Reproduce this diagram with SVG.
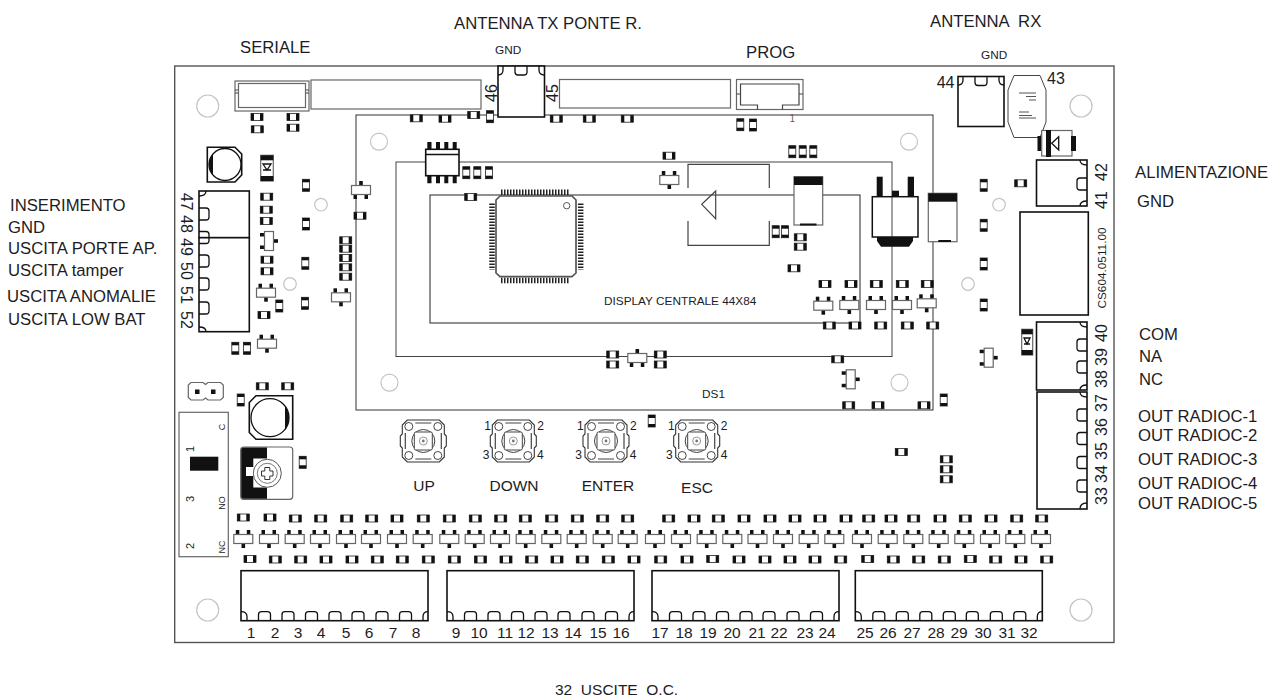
<svg xmlns="http://www.w3.org/2000/svg" width="1271" height="698" viewBox="0 0 1271 698">
<style>
text{font-family:"Liberation Sans",Arial,sans-serif;fill:#1c1c24}
.l{font-size:16.7px}.s{font-size:11.8px}.n{font-size:15.5px;text-anchor:middle}.m{font-size:16px}.r{font-size:16px;text-anchor:middle}
.f{font-size:12px;text-anchor:middle}
.k{fill:none;stroke:#111;stroke-width:1.3}.t{fill:#fff;stroke:#111;stroke-width:1.6}
.g{fill:#fff;stroke:#666;stroke-width:1.2}.d{fill:none;stroke:#444;stroke-width:1.2}
.h{fill:#fff;stroke:#c4c4c4;stroke-width:1.2}.b{fill:#111;stroke:none}
</style>
<defs>
<g id="h"><rect x="-6" y="-3.5" width="12" height="7" fill="#fff" stroke="#222" stroke-width=".8"/><rect class="b" x="-6" y="-3.5" width="3" height="7"/><rect class="b" x="3" y="-3.5" width="3" height="7"/></g>
<g id="v"><rect x="-3.5" y="-6" width="7" height="12" fill="#fff" stroke="#222" stroke-width=".8"/><rect class="b" x="-3.5" y="-6" width="7" height="3"/><rect class="b" x="-3.5" y="3" width="7" height="3"/></g>
<g id="sd"><rect class="b" x="-7.5" y="-9" width="3.5" height="5"/><rect class="b" x="3.5" y="-9" width="3.5" height="5"/><rect class="b" x="-1.8" y="4" width="3.6" height="5"/><rect class="g" x="-9.5" y="-4.5" width="19" height="9"/></g>
<g id="su"><rect class="b" x="-7.5" y="4" width="3.5" height="5"/><rect class="b" x="3.5" y="4" width="3.5" height="5"/><rect class="b" x="-1.8" y="-9" width="3.6" height="5"/><rect class="g" x="-9.5" y="-4.5" width="19" height="9"/></g>
<g id="ss"><rect class="b" x="-9" y="-8" width="5" height="3.5"/><rect class="b" x="-9" y="4.5" width="5" height="3.5"/><rect class="b" x="4" y="-1.8" width="5" height="3.6"/><rect class="g" x="-4.5" y="-9.5" width="9" height="19"/></g>
<path id="bb" class="k" d="M-6 0V-6Q-6-9-3-9H3Q6-9 6-6V0"/>
<path id="bt" class="k" d="M-6 0V6Q-6 9-3 9H3Q6 9 6 6V0"/>
<path id="bl" class="k" d="M0-6H7Q10-6 10-3V3Q10 6 7 6H0"/>
<path id="br" class="k" d="M0-6H-7Q-10-6-10-3V3Q-10 6-7 6H0"/>
<g id="term8"><rect class="t" x="0" y="0" width="187" height="50"/><path class="k" d="M0 41Q6 41 6 46V50M187 41Q182 41 182 46V50"/>
<use href="#bb" x="23.5" y="50"/><use href="#bb" x="47" y="50"/><use href="#bb" x="70.5" y="50"/><use href="#bb" x="94" y="50"/><use href="#bb" x="117" y="50"/><use href="#bb" x="141" y="50"/><use href="#bb" x="164.5" y="50"/></g>
<g id="btn"><path d="M-16-21H16L21-16V-7L23-5V5L21 7V16L16 21H-16L-21 16V7L-23 5V-5L-21-7V-16Z" fill="#fff" stroke="#333" stroke-width="1.1"/>
<g fill="#fff" stroke="#444" stroke-width="1"><circle cx="-14.5" cy="-14.5" r="4"/><circle cx="14.5" cy="-14.5" r="4"/><circle cx="-14.5" cy="14.5" r="4"/><circle cx="14.5" cy="14.5" r="4"/><circle r="11.5"/><rect x="-9" y="-9" width="18" height="18" rx="1.5"/></g>
<circle r="4" fill="none" stroke="#999"/><circle r="1.4" fill="#777"/><path class="d" d="M-8-18H8M-8 18H8M-18-8V8M18-8V8" stroke-width=".8"/></g>
</defs>
<rect width="1271" height="698" fill="#fff"/>
<rect id="board" x="174.7" y="66" width="939.3" height="576.5" fill="#fff" stroke="#555" stroke-width="1.4"/>
<g id="holes">
<circle class="h" cx="207.7" cy="106" r="11"/><circle class="h" cx="1081" cy="106" r="11"/><circle class="h" cx="207.7" cy="610" r="11"/><circle class="h" cx="1081" cy="610" r="11"/>
<circle class="h" cx="379" cy="141.7" r="8.5"/><circle class="h" cx="909" cy="141.7" r="8.5"/><circle class="h" cx="389.5" cy="382.7" r="8.5"/><circle class="h" cx="899.5" cy="382.7" r="8.5"/>
<circle class="h" cx="321" cy="204.7" r="6.3"/><circle class="h" cx="290" cy="284" r="6.3"/><circle class="h" cx="999" cy="204.7" r="6.3"/><circle class="h" cx="968" cy="284" r="6.3"/>
</g>
<g id="display">
<rect x="356" y="115" width="577" height="295" fill="none" stroke="#333" stroke-width="1"/>
<rect x="396" y="162" width="496" height="194.5" fill="none" stroke="#444" stroke-width="1"/>
<rect x="430" y="195" width="430" height="128" fill="none" stroke="#222" stroke-width="1"/>
</g>
<g id="top-connectors">
<rect class="g" x="235" y="81" width="74" height="30"/><rect class="g" stroke-width="1" x="238.5" y="83.5" width="67" height="24"/><path class="d" d="M235 90H238M235 93H238M306 90H309M306 93H309"/>
<rect class="g" x="311" y="80" width="170" height="29"/>
<rect class="t" x="498" y="66" width="46.5" height="51"/><path class="k" d="M498 75Q503 75 503 70V66M544.5 75Q539 75 539 70V66"/><use href="#bt" x="521" y="66"/>
<rect class="g" x="559.5" y="79.5" width="171" height="28.5"/>
<rect class="g" x="736.5" y="79.5" width="66.5" height="30"/>
<path class="d" d="M757.5 109.5V105H740.5V84H799V105H782.5V109.5M736.5 94H740.5M799 94H803"/>
<rect class="t" x="958" y="76.5" width="46" height="50"/><path class="k" d="M958 85Q963 85 963 80V76.5M1004 85Q999 85 999 80V76.5"/><use href="#bt" x="981" y="76.5"/>
</g>
<g id="component-43"><path d="M1014 75.5H1040L1046 90V122L1040 137.5H1014L1008 122V90Z" fill="#fff" stroke="#444" stroke-width="1"/><path d="M1019 93H1036M1026 96.5H1036M1029 100H1036M1019 112H1029M1019 115.5H1032M1019 118H1036" fill="none" stroke="#555"/></g>
<g id="diode-top"><rect class="g" x="1041.7" y="130.5" width="30.3" height="25.5"/><rect class="b" x="1037.5" y="136" width="3.5" height="15"/><rect class="b" x="1046" y="130" width="5" height="27"/><rect class="b" x="1071" y="136" width="5" height="15"/><path class="k" d="M1051.7 143.3L1058.7 136.7V150Z"/></g>
<g id="terminals-right">
<rect class="t" x="1036.5" y="160" width="50.5" height="46"/><path class="k" d="M1087 165Q1080 165 1080 160M1087 201Q1080 201 1080 206"/><use href="#br" x="1087" y="184"/>
<rect class="t" x="1020" y="212" width="68.3" height="103"/>
<rect class="t" x="1036.5" y="322" width="50.5" height="68"/><path class="k" d="M1087 327Q1080 327 1080 322M1087 385Q1080 385 1080 390"/><use href="#br" x="1087" y="345"/><use href="#br" x="1087" y="367"/>
<rect class="t" x="1037" y="392" width="50" height="117"/><path class="k" d="M1087 397Q1080 397 1080 392M1087 503Q1080 503 1080 509"/><use href="#br" x="1087" y="415"/><use href="#br" x="1087" y="438.5"/><use href="#br" x="1087" y="462.5"/><use href="#br" x="1087" y="486"/>
</g>
<g id="terminals-left">
<rect class="t" x="199" y="191" width="50.3" height="46.7"/><rect class="t" x="199" y="237.7" width="50.3" height="94"/><path class="k" d="M199 196Q206 196 206 191M199 327Q206 327 206 331.7"/>
<use href="#bl" x="199" y="214"/><use href="#bl" x="199" y="237.5"/><use href="#bl" x="199" y="261"/><use href="#bl" x="199" y="284"/><use href="#bl" x="199" y="308"/>
</g>
<g id="terminals-bottom"><use href="#term8" x="241" y="570.7"/><use href="#term8" x="447" y="570.7"/><use href="#term8" x="652" y="570.7"/><use href="#term8" x="855.3" y="570.7"/></g>
<g id="inductor-top"><path class="t" d="M207.3 147.3H235L241.7 154V175L235 182H207.3Z"/><circle class="k" cx="225" cy="164.5" r="16"/><path class="b" d="M209 164.5A16 16 0 0 1 213 154V175A16 16 0 0 1 209 164.5Z"/></g>
<g id="inductor-bottom"><path class="t" d="M256 395.7H292.7V439.3H256L249.3 432.5V402.5Z"/><circle class="k" cx="270" cy="417.7" r="19"/><path class="b" d="M289 417.7A19 19 0 0 0 285 406V430A19 19 0 0 0 289 417.7Z"/></g>
<g id="diode-left"><rect class="g" x="260.7" y="155.3" width="12.6" height="25.7"/><rect class="b" x="260.7" y="155.3" width="12.6" height="5"/><rect class="b" x="260.7" y="176" width="12.6" height="5"/><path class="k" d="M263 164H271L267 170ZM263 170H271"/></g>
<g id="diode-right"><rect class="g" x="1021.7" y="329.3" width="11" height="25.7"/><rect class="b" x="1021.7" y="329.3" width="11" height="5"/><rect class="b" x="1021.7" y="350" width="11" height="5"/><path class="k" d="M1024 338H1030L1027 344ZM1024 344H1030"/></g>
<g id="jumper"><path class="g" d="M191 382.5H203L205.5 384.5L208 382.5H220.5L223.3 385V397.5L220.5 400H208L205.5 398L203 400H191L188.3 397.5V385Z"/><rect class="b" x="195" y="389.5" width="4.5" height="4.5"/><rect class="b" x="211" y="389.5" width="4.5" height="4.5"/></g>
<g id="relay"><rect x="179" y="412.3" width="49.3" height="144.4" fill="#fff" stroke="#666" stroke-width="1.2"/><rect class="b" x="190" y="456.7" width="28.3" height="14"/>
<text style="font-size:11px;text-anchor:middle" transform="rotate(-90 194 449)" x="194" y="449">1</text><text style="font-size:11px;text-anchor:middle" transform="rotate(-90 194 499)" x="194" y="499">3</text><text style="font-size:11px;text-anchor:middle" transform="rotate(-90 194 546)" x="194" y="546">2</text><text style="font-size:9px;text-anchor:middle" transform="rotate(-90 224.5 427)" x="224.5" y="427">C</text><text style="font-size:9px;text-anchor:middle" transform="rotate(-90 224.5 503)" x="224.5" y="503">NO</text><text style="font-size:9px;text-anchor:middle" transform="rotate(-90 224.5 547)" x="224.5" y="547">NC</text></g>
<g id="trimmer"><rect class="g" x="240.7" y="447" width="52" height="52.3" rx="3"/><path class="b" d="M243.7 447.5H267V498.8H243.7Q241.2 498.8 241.2 496V450Q241.2 447.5 243.7 447.5Z"/><path fill="#fff" d="M253.3 458.5H267V487.5H253.3V476H246V467H253.3Z"/><circle cx="267.3" cy="473.3" r="14" fill="#fff" stroke="#555"/><circle cx="267.3" cy="473.3" r="10" fill="none" stroke="#777"/><path d="M264.8 467.5H269.8V471H273V476H269.8V479.5H264.8V476H261.5V471H264.8Z" fill="#fff" stroke="#333"/></g>
<g id="mcu"><path fill="#fff" stroke="#555" stroke-width="1.7" d="M500 196H572L576 200V273L572 276.7H500L496 273V200Z"/>
<circle cx="566.7" cy="205.7" r="3.2" fill="none" stroke="#555"/>
<g fill="none" stroke="#222" stroke-width="5.5" stroke-dasharray="1.5 1.5"><path d="M501 192.3H569"/><path d="M501 280.5H569"/><path d="M580.7 203.5V270"/><path d="M492 203.5V270"/></g></g>
<g id="soic"><rect class="t" x="425.7" y="149.3" width="33.3" height="26.4"/><path class="k" d="M425.7 154.5H459"/><path class="b" d="M427.3 142H431.5V149H427.3ZM436 142H440V149H436ZM444.3 142H448.3V149H444.3ZM452.7 142H456.7V149H452.7ZM427.3 176H431.5V183.3H427.3ZM436 176H440V183.3H436ZM444.3 176H448.3V183.3H444.3ZM452.7 176H456.7V183.3H452.7Z"/></g>
<g id="bracket"><path class="d" d="M688 188V164.3H769.3V188M688 221V245.3H769.3V221M715.7 191L701.7 204.3L715.7 218.7Z" fill="#fff"/></g>
<g id="cap-a"><rect class="g" x="794" y="176.7" width="28.7" height="48.3"/><rect class="b" x="794" y="176.7" width="28.7" height="8.3"/><rect class="b" x="800" y="223.5" width="16.5" height="2"/></g>
<g id="cap-b"><rect class="g" x="928.3" y="193.3" width="28.7" height="48.4"/><rect class="b" x="928.3" y="193.3" width="28.7" height="8.4"/><rect class="b" x="938.3" y="240" width="12.7" height="2"/></g>
<g id="transistor"><rect class="b" x="876.7" y="176.7" width="6" height="20"/><rect class="b" x="907.7" y="176.7" width="6.3" height="20"/><rect class="b" x="892" y="190.7" width="7" height="6"/><path class="b" d="M877 237H913V241L909 246.7H881L877 241Z"/><rect x="872.3" y="196.7" width="45.7" height="40.3" fill="none" stroke="#111" stroke-width="1.5"/></g>
<g id="buttons"><use href="#btn" x="423.3" y="441"/><use href="#btn" x="513.3" y="441"/><use href="#btn" x="606" y="441"/><use href="#btn" x="696.7" y="441"/></g>
<g id="smd">
<use href="#h" x="257" y="117"/><use href="#h" x="257.3" y="129.3"/><use href="#h" x="293" y="117"/><use href="#h" x="293" y="127.7"/>
<use href="#h" x="416.3" y="118.3"/><use href="#h" x="445" y="118.7"/><use href="#h" x="473.7" y="115"/><use href="#v" x="490" y="116.7"/>
<use href="#h" x="266.7" y="196.7"/><use href="#h" x="266.3" y="209.7"/><use href="#h" x="266.3" y="221"/><use href="#h" x="267" y="259.7"/><use href="#h" x="267" y="271.3"/><use href="#h" x="264" y="315"/><use href="#v" x="279.3" y="306"/>
<use href="#v" x="235.3" y="348.3"/><use href="#v" x="247" y="348.3"/><use href="#v" x="306" y="185.3"/><use href="#v" x="306" y="224"/><use href="#v" x="305.3" y="263.3"/><use href="#v" x="305" y="303.3"/>
<use href="#h" x="360" y="215.7"/><use href="#h" x="345.7" y="240.3"/><use href="#h" x="345.7" y="248.7"/><use href="#h" x="345.7" y="258"/><use href="#h" x="345.7" y="267.3"/><use href="#h" x="345.7" y="276.7"/>
<use href="#h" x="470.7" y="197"/><use href="#v" x="466.3" y="172.7"/><use href="#v" x="477.3" y="172.7"/><use href="#v" x="489" y="172.7"/>
<use href="#h" x="262.3" y="386.3"/><use href="#h" x="287.7" y="386.3"/><use href="#v" x="240.7" y="400"/><use href="#v" x="302.7" y="462.3"/>
<use href="#h" x="556.3" y="118.7"/><use href="#h" x="589.3" y="118.7"/><use href="#h" x="627.3" y="118.7"/><use href="#v" x="740.3" y="124.7"/><use href="#v" x="753" y="125"/><use href="#v" x="792.3" y="151.7"/><use href="#v" x="802.7" y="151.7"/><use href="#v" x="813.3" y="151.7"/><use href="#h" x="669" y="155.7"/>
<use href="#v" x="775.7" y="231.7"/><use href="#v" x="785" y="231.7"/><use href="#h" x="800.3" y="237.3"/><use href="#h" x="800.3" y="246.7"/><use href="#h" x="794" y="268.3"/>
<use href="#h" x="612.7" y="354.5"/><use href="#h" x="612.7" y="364.5"/><use href="#h" x="660.3" y="354.5"/><use href="#h" x="660.3" y="364.5"/>
<use href="#h" x="825" y="284"/><use href="#h" x="851" y="284"/><use href="#h" x="876.3" y="284"/><use href="#h" x="902.3" y="284"/><use href="#h" x="927.3" y="284"/>
<use href="#h" x="829.3" y="325.5"/><use href="#h" x="855" y="325.5"/><use href="#h" x="880.7" y="325.5"/><use href="#h" x="907.3" y="325.5"/><use href="#h" x="932.7" y="325.5"/>
<use href="#v" x="983.7" y="185.3"/><use href="#v" x="983.7" y="225.3"/><use href="#v" x="983.7" y="264"/><use href="#v" x="983.7" y="305"/><use href="#h" x="1020.7" y="183.3"/>
<use href="#h" x="837.7" y="359.3"/><use href="#h" x="848.7" y="405.3"/><use href="#h" x="878" y="405.3"/><use href="#h" x="924" y="405.3"/><use href="#v" x="943.7" y="400"/><use href="#h" x="901.3" y="452"/><use href="#h" x="946.3" y="459.3"/><use href="#h" x="946.3" y="469.3"/><use href="#h" x="946.3" y="479.3"/><use href="#v" x="651.7" y="421"/>
</g>
<g id="smd-row-top">
<use href="#h" x="243.3" y="517.5"/><use href="#h" x="270" y="517.5"/><use href="#h" x="295.3" y="518.5"/><use href="#h" x="320.7" y="518.5"/><use href="#h" x="346.7" y="518.5"/><use href="#h" x="371.7" y="518.5"/><use href="#h" x="397" y="518.5"/><use href="#h" x="423.3" y="518.5"/><use href="#h" x="449.3" y="518.5"/><use href="#h" x="475.3" y="518.5"/><use href="#h" x="500.7" y="518.5"/><use href="#h" x="525.3" y="518.5"/><use href="#h" x="551.7" y="518.5"/><use href="#h" x="577.3" y="518.5"/><use href="#h" x="602.7" y="518.5"/><use href="#h" x="627.7" y="518.5"/><use href="#h" x="668.7" y="518.5"/><use href="#h" x="694" y="518.5"/><use href="#h" x="718.3" y="518.5"/><use href="#h" x="744" y="518.5"/><use href="#h" x="770" y="518.5"/><use href="#h" x="795" y="518.5"/><use href="#h" x="820" y="518.5"/><use href="#h" x="846" y="518.5"/><use href="#h" x="868.7" y="518.5"/><use href="#h" x="891" y="518.5"/><use href="#h" x="913.7" y="518.5"/><use href="#h" x="940" y="518.5"/><use href="#h" x="965.3" y="518.5"/><use href="#h" x="991" y="518.5"/><use href="#h" x="1016.7" y="518.5"/><use href="#h" x="1041.7" y="518.5"/>
</g>
<g id="smd-row-bottom">
<use href="#h" x="250" y="559"/><use href="#h" x="275.3" y="559.5"/><use href="#h" x="300.7" y="559.5"/><use href="#h" x="326" y="559.5"/><use href="#h" x="352" y="559.5"/><use href="#h" x="377.3" y="559.5"/><use href="#h" x="402.3" y="559.5"/><use href="#h" x="428.3" y="559.5"/><use href="#h" x="454.3" y="559.5"/><use href="#h" x="480.5" y="559.5"/><use href="#h" x="506" y="559.5"/><use href="#h" x="531.7" y="559.5"/><use href="#h" x="557" y="559.5"/><use href="#h" x="582.3" y="559.5"/><use href="#h" x="608.3" y="559.5"/><use href="#h" x="634" y="559.5"/><use href="#h" x="660.7" y="559.5"/><use href="#h" x="687" y="559.5"/><use href="#h" x="712.7" y="559"/><use href="#h" x="739" y="559.5"/><use href="#h" x="765" y="559.5"/><use href="#h" x="790" y="559.5"/><use href="#h" x="815" y="559.5"/><use href="#h" x="840.7" y="559.5"/><use href="#h" x="867.7" y="559"/><use href="#h" x="893.3" y="559.5"/><use href="#h" x="918.7" y="559.5"/><use href="#h" x="944.3" y="559.5"/><use href="#h" x="970.3" y="559"/><use href="#h" x="995.7" y="559.5"/><use href="#h" x="1021" y="559.5"/><use href="#h" x="1046.7" y="559.5"/>
</g>
<g id="sot-row">
<use href="#sd" x="243.3" y="539"/><use href="#sd" x="269" y="539"/><use href="#sd" x="294.7" y="539"/><use href="#sd" x="320" y="539"/><use href="#sd" x="346" y="539"/><use href="#sd" x="371" y="539"/><use href="#sd" x="397" y="539"/><use href="#sd" x="422.7" y="539"/><use href="#sd" x="449.3" y="539"/><use href="#sd" x="474.7" y="539"/><use href="#sd" x="500" y="539"/><use href="#sd" x="525.7" y="539"/><use href="#sd" x="551.3" y="539"/><use href="#sd" x="576.7" y="539"/><use href="#sd" x="602.7" y="539"/><use href="#sd" x="627.7" y="539"/><use href="#sd" x="655" y="539"/><use href="#sd" x="681" y="539"/><use href="#sd" x="706.7" y="539"/><use href="#sd" x="732.3" y="539"/><use href="#sd" x="757.5" y="539"/><use href="#sd" x="783" y="539"/><use href="#sd" x="808.7" y="539"/><use href="#sd" x="834.3" y="539"/><use href="#sd" x="862" y="539"/><use href="#sd" x="887.7" y="539"/><use href="#sd" x="913.3" y="539"/><use href="#sd" x="938.7" y="539"/><use href="#sd" x="964.3" y="539"/><use href="#sd" x="990" y="539"/><use href="#sd" x="1015.3" y="539"/><use href="#sd" x="1041" y="539"/>
</g>
<g id="sot-misc">
<use href="#sd" x="266" y="292.7"/><use href="#sd" x="267" y="343.7"/><use href="#sd" x="341" y="297.3"/><use href="#su" x="361" y="190"/><use href="#ss" x="269" y="241"/><use href="#sd" x="669.3" y="180"/><use href="#sd" x="823.3" y="305.7"/><use href="#su" x="637.3" y="358"/>
<use href="#sd" x="849.3" y="305"/><use href="#sd" x="876" y="305"/><use href="#sd" x="902" y="305"/><use href="#sd" x="926.7" y="303.3"/><use href="#ss" x="988.7" y="357.7"/><use href="#ss" x="850.7" y="379.3"/>
</g>
<g id="labels">
<text class="l" x="454" y="29">ANTENNA TX PONTE R.</text>
<text class="l" x="240" y="53">SERIALE</text>
<text class="s" x="495" y="54">GND</text>
<text class="l" x="746" y="58">PROG</text>
<text class="l" x="930" y="27" xml:space="preserve">ANTENNA  RX</text>
<text class="s" x="981" y="59">GND</text>
<text class="l" x="10" y="211">INSERIMENTO</text>
<text class="l" x="8" y="233">GND</text>
<text class="l" x="8" y="254">USCITA PORTE AP.</text>
<text class="l" x="8" y="276">USCITA tamper</text>
<text class="l" x="7" y="302">USCITA ANOMALIE</text>
<text class="l" x="8" y="325">USCITA LOW BAT</text>
<text class="l" x="1135" y="178">ALIMENTAZIONE</text>
<text class="l" x="1137" y="207">GND</text>
<text class="l" x="1139" y="340">COM</text>
<text class="l" x="1139" y="362">NA</text>
<text class="l" x="1139" y="385">NC</text>
<text class="l" x="1138" y="422">OUT RADIOC-1</text>
<text class="l" x="1138" y="441">OUT RADIOC-2</text>
<text class="l" x="1138" y="465">OUT RADIOC-3</text>
<text class="l" x="1138" y="489">OUT RADIOC-4</text>
<text class="l" x="1138" y="509">OUT RADIOC-5</text>
<text style="font-size:15.5px" x="555" y="695" xml:space="preserve">32  USCITE  O.C.</text>
<text class="s" x="604" y="305">DISPLAY CENTRALE 44X84</text>
<text class="s" x="702" y="398">DS1</text>
<text style="font-size:10px;fill:#6a5a4a" x="789.5" y="122">1</text>
<text class="n" x="424" y="491">UP</text><text class="n" x="514" y="491">DOWN</text><text class="n" x="608" y="491">ENTER</text><text class="n" x="697" y="493">ESC</text>
<text class="f" x="487.7" y="430">1</text><text class="f" x="540.7" y="430">2</text><text class="f" x="486" y="459">3</text><text class="f" x="540.3" y="459">4</text>
<text class="f" x="580.3" y="430">1</text><text class="f" x="633.3" y="430">2</text><text class="f" x="578.7" y="459">3</text><text class="f" x="633" y="459">4</text>
<text class="f" x="671.3" y="430">1</text><text class="f" x="724" y="430">2</text><text class="f" x="669.3" y="459">3</text><text class="f" x="724" y="459">4</text>
<text class="n" x="251" y="638">1</text><text class="n" x="275" y="638">2</text><text class="n" x="298" y="638">3</text><text class="n" x="321" y="638">4</text><text class="n" x="346" y="638">5</text><text class="n" x="369" y="638">6</text><text class="n" x="393" y="638">7</text><text class="n" x="416" y="638">8</text>
<text class="n" x="456" y="638">9</text><text class="n" x="479" y="638">10</text><text class="n" x="505" y="638">11</text><text class="n" x="526" y="638">12</text><text class="n" x="550" y="638">13</text><text class="n" x="573" y="638">14</text><text class="n" x="598" y="638">15</text><text class="n" x="621" y="638">16</text>
<text class="n" x="660" y="638">17</text><text class="n" x="684" y="638">18</text><text class="n" x="708" y="638">19</text><text class="n" x="732" y="638">20</text><text class="n" x="757" y="638">21</text><text class="n" x="779" y="638">22</text><text class="n" x="805" y="638">23</text><text class="n" x="827" y="638">24</text>
<text class="n" x="865" y="638">25</text><text class="n" x="888" y="638">26</text><text class="n" x="912" y="638">27</text><text class="n" x="936" y="638">28</text><text class="n" x="959" y="638">29</text><text class="n" x="983" y="638">30</text><text class="n" x="1007" y="638">31</text><text class="n" x="1029" y="638">32</text>
<text class="r" transform="rotate(-90 1107 172)" x="1107" y="172">42</text><text class="r" transform="rotate(-90 1107 200)" x="1107" y="200">41</text>
<text class="r" transform="rotate(-90 1107 333)" x="1107" y="333">40</text><text class="r" transform="rotate(-90 1107 357)" x="1107" y="357">39</text><text class="r" transform="rotate(-90 1107 379)" x="1107" y="379">38</text>
<text class="r" transform="rotate(-90 1107 403)" x="1107" y="403">37</text><text class="r" transform="rotate(-90 1107 427)" x="1107" y="427">36</text><text class="r" transform="rotate(-90 1107 451)" x="1107" y="451">35</text><text class="r" transform="rotate(-90 1107 474)" x="1107" y="474">34</text><text class="r" transform="rotate(-90 1107 496)" x="1107" y="496">33</text>
<text class="s" style="text-anchor:middle" transform="rotate(-90 1106 268)" x="1106" y="268">CS604.0511.00</text>
<text class="r" transform="rotate(90 181 201.7)" x="181" y="201.7">47</text><text class="r" transform="rotate(90 181 224)" x="181" y="224">48</text><text class="r" transform="rotate(90 181 247)" x="181" y="247">49</text><text class="r" transform="rotate(90 181 271)" x="181" y="271">50</text><text class="r" transform="rotate(90 181 295)" x="181" y="295">51</text><text class="r" transform="rotate(90 181 320)" x="181" y="320">52</text>
<text class="r" transform="rotate(-90 497 93)" x="497" y="93">46</text><text class="r" transform="rotate(-90 558 93)" x="558" y="93">45</text>
<text class="m" x="936.7" y="88">44</text><text class="m" x="1047" y="83.5">43</text>
</g>
</svg>
